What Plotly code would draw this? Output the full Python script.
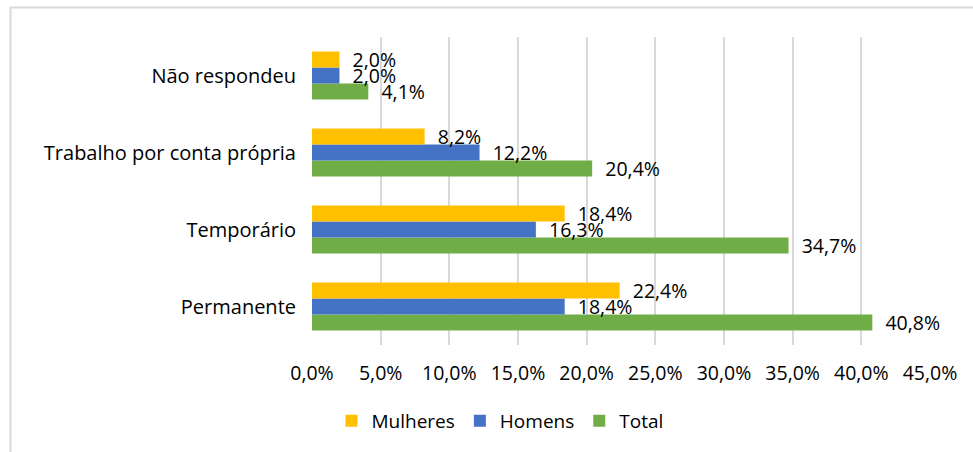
import plotly.graph_objects as go

categories = ["Permanente", "Temporário", "Trabalho por conta própria", "Não respondeu"]
mulheres = [22.4, 18.4, 8.2, 2.0]
homens = [18.4, 16.3, 12.2, 2.0]
total = [40.8, 34.7, 20.4, 4.1]
tick_vals = [0, 5, 10, 15, 20, 25, 30, 35, 40, 45]
tick_text = ["0,0%", "5,0%", "10,0%", "15,0%", "20,0%", "25,0%", "30,0%", "35,0%", "40,0%", "45,0%"]

def fmt(v):
    return "  " + f"{v:.1f}".replace(".", ",") + "%"

FONT = "Open Sans"
FS = 19.5
series = [("Total", total, "#70AD47"), ("Homens", homens, "#4472C4"), ("Mulheres", mulheres, "#FFC000")]

fig = go.Figure()
for name, vals, col in series:
    fig.add_trace(go.Bar(
        y=categories, x=vals, name=name, orientation="h",
        marker=dict(color=col, line=dict(width=0)),
        text=[fmt(v) for v in vals], textposition="outside",
        constraintext="none", cliponaxis=False,
        textfont=dict(family=FONT, size=FS, color="#000000"),
    ))

W, H = 973, 452
L, R, T, B = 312, 43, 37, 107
pw, ph = W - L - R, H - T - B

fig.update_layout(
    width=W, height=H, barmode="group", bargap=0.377, bargroupgap=0,
    margin=dict(l=L, r=R, t=T, b=B, autoexpand=False),
    paper_bgcolor="white", plot_bgcolor="white",
    font=dict(family=FONT, size=FS, color="#000000"),
    xaxis=dict(range=[0, 45], tickvals=tick_vals, ticktext=tick_text,
               showgrid=True, gridcolor="#D9D9D9", gridwidth=2, zeroline=False,
               showline=False, ticks="", ticklabelstandoff=14,
               tickfont=dict(size=FS), fixedrange=True),
    yaxis=dict(showgrid=False, zeroline=False, showline=False, ticks="",
               ticklabelstandoff=15, tickfont=dict(size=FS + 0.5)),
    legend=dict(orientation="h", x=(500 - L) / pw, xanchor="center",
                y=-(421 - T - ph) / ph, yanchor="middle",
                traceorder="reversed", font=dict(size=19),
                itemwidth=30),
    showlegend=True,
    shapes=[dict(type="rect", xref="paper", yref="paper",
                 x0=(10.5 - L) / pw, x1=(1000 - L) / pw,
                 y0=(T + ph - 480) / ph, y1=(T + ph - 7.5) / ph,
                 line=dict(color="#D9D9D9", width=2), fillcolor="rgba(0,0,0,0)", layer="below")],
)

fig.write_html("out.html", config={"displayModeBar": False},
               post_script="document.body.style.margin='0px';document.body.style.overflow='hidden';")
